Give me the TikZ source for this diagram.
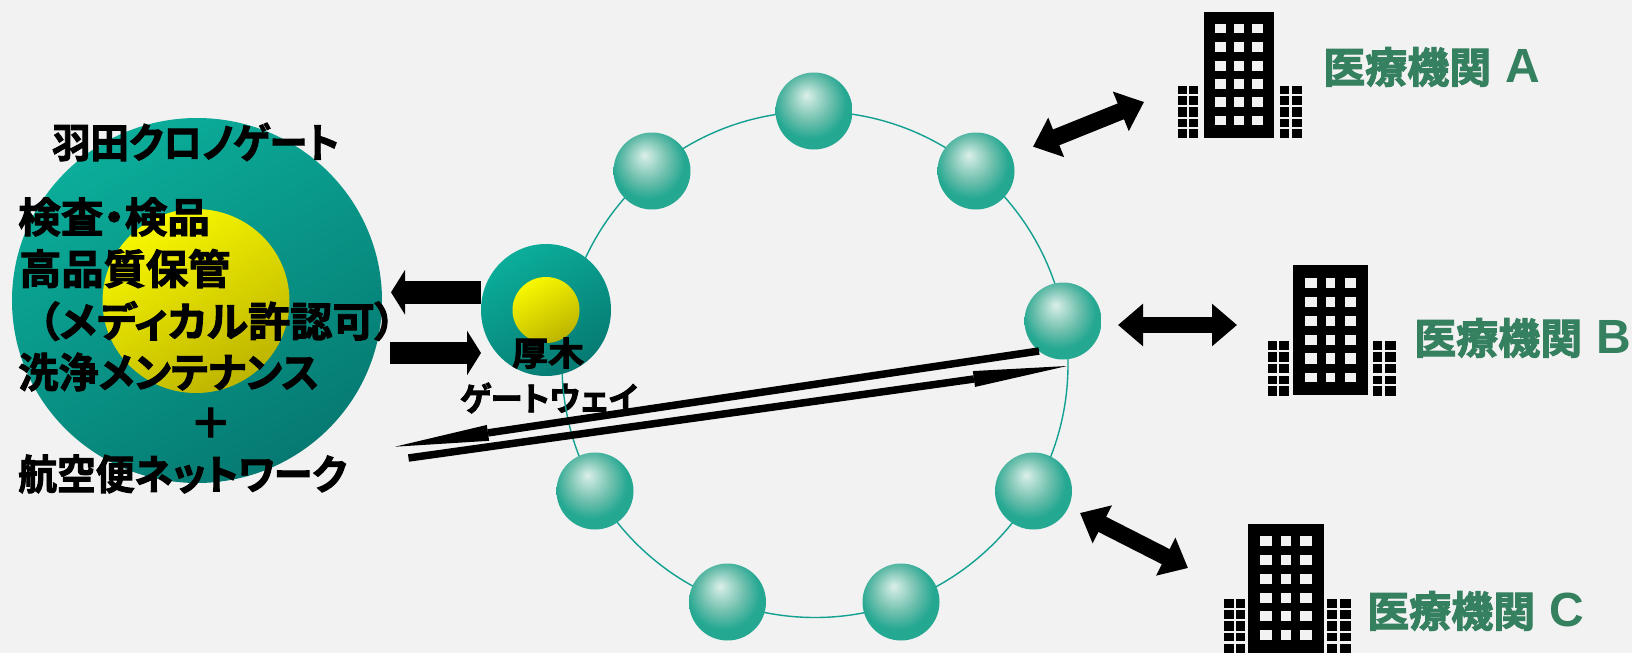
\documentclass[tikz,border=0pt]{standalone}
\usepackage{fontspec}
\usetikzlibrary{shapes.geometric,arrows.meta}
\newfontfamily\jp[RawFeature=+palt,FakeBold=2.4]{Noto Sans CJK JP Bold}
\newfontfamily\lat{Liberation Sans Bold}
\definecolor{bg}{HTML}{F2F2F2}
\definecolor{tealA}{HTML}{0BAD9A}
\definecolor{tealB}{HTML}{067A72}
\definecolor{yelA}{HTML}{F8F800}
\definecolor{yelB}{HTML}{BDB400}
\definecolor{ringc}{HTML}{12A090}
\definecolor{grn}{HTML}{35805F}
\definecolor{sph0}{HTML}{DCEFE8}
\definecolor{sph1}{HTML}{A5D8CC}
\definecolor{sph3}{HTML}{70C0AE}
\definecolor{sph2}{HTML}{25A892}
\pgfdeclareradialshading{sphereshade}{\pgfpoint{-5bp}{10.5bp}}{
 color(0bp)=(sph0); color(7bp)=(sph1); color(14bp)=(sph3); color(23.5bp)=(sph2); color(50bp)=(sph2)}
\tikzset{
 ball/.style={circle,inner sep=0pt,minimum size=77pt,shade,shading=sphereshade},
 disc/.style={ellipse,inner sep=0pt,shade,top color=tealA,bottom color=tealB,shading angle=30},
 yolk/.style={ellipse,inner sep=0pt,shade,top color=yelA,bottom color=yelB,shading angle=30},
 lab/.style={inner sep=0pt,anchor=west,text=black,font=\jp\fontsize{41}{41}\selectfont},
 hosp/.style={inner sep=0pt,anchor=west,text=grn,font=\jp\fontsize{42}{42}\selectfont},
 dbl/.style={line width=17pt,{Triangle[length=25pt,width=41pt]}-{Triangle[length=25pt,width=41pt]}},
 blockarrow/.style={line width=22.5pt,-{Triangle[length=14pt,width=44pt]}},
 longarrow/.style={line width=7.5pt,-{Triangle[length=94pt,width=16pt,line width=0pt 0 0]}},
 ringline/.style={draw=ringc,line width=1.4pt},
}
% x, y, x scale, y scale, shift that brings the side blocks towards the main block
\newcommand{\bldg}[5]{%
 \begin{scope}[shift={(#1,#2)},xscale=#3,yscale=#4]
  \fill[black] (0,0) rectangle (70,126.6);
  \foreach \xa/\xb in {11.4/22.1,30.4/39.7,48.2/58.9}
   \foreach \ya/\yb in {12.7/21.7,30.7/40.7,49.7/59,67.7/77.7,85.7/95.7,104.3/113.7}
    \fill[bg] (\xa,\ya) rectangle (\xb,\yb);
  \begin{scope}[xshift=#5]
  \foreach \xa/\xb in {-25.7/-16.8,-15/-6}
   \foreach \ya/\yb in {74/82.7,84.7/93.7,95.7/105,107.3/115.3,117.7/126.7}
    \fill[black] (\xa,\ya) rectangle (\xb,\yb);
  \end{scope}
  \begin{scope}[xshift=-#5]
  \foreach \xa/\xb in {76.4/85.4,88.2/97.9}
   \foreach \ya/\yb in {74/82.7,84.7/93.7,95.7/105,107.3/115.3,117.7/126.7}
    \fill[black] (\xa,\ya) rectangle (\xb,\yb);
  \end{scope}
 \end{scope}}
\begin{document}
\begin{tikzpicture}[x=1pt,y=-1pt]
\useasboundingbox (0,0) rectangle (1632,653);
\fill[bg] (0,0) rectangle (1632,653);
% gateway label lies under the ring
\node[lab,font=\jp\fontsize{33}{33}\selectfont] (gwlabel) at (460,398) {\scalebox{.98}[1]{ゲートウェイ}};
% ring
\node[circle,ringline,minimum size=506pt,inner sep=0pt] (ring) at (815,364.5) {};
% spheres
\node[ball] (s1) at (814,111) {};
\node[ball] (s2) at (652,171) {};
\node[ball] (s3) at (976,171) {};
\node[ball] (s4) at (1063,321) {};
\fill[bg] (1101,280) rectangle (1106,362);
\node[ball] (s5) at (1033.5,491) {};
\node[ball] (s6) at (901,602) {};
\node[ball] (s7) at (727.5,602) {};
\node[ball] (s8) at (595,491) {};
% Haneda
\node[disc,minimum width=370pt,minimum height=365pt] (haneda) at (197,300.5) {};
\node[yolk,minimum width=187pt,minimum height=184pt] (hanedain) at (196,301) {};
% Atsugi
\node[disc,minimum width=130pt,minimum height=132pt] (atsugi) at (546,310) {};
\node[yolk,minimum width=67pt,minimum height=66pt] (atsugiin) at (546,310) {};
% text
\node[lab] (t1) at (52,142) {\scalebox{.935}[1]{羽田クロノゲート}};
\node[lab] (t2) at (18,217) {\scalebox{1.04}[1]{検査・検品}};
\node[lab] (t3) at (19,268.6) {\scalebox{1.03}[1]{高品質保管}};
\node[lab] (t4) at (38,321) {\scalebox{1.03}[1]{（メディカル許認可）}};
\node[lab] (t5) at (18,372) {\scalebox{.98}[1]{洗浄メンテナンス}};
\node[lab] (t6) at (190,423) {＋};
\node[lab] (t7) at (18,474) {\scalebox{.946}[1]{航空便ネットワーク}};
\node[lab,font=\jp\fontsize{33}{33}\selectfont] (t8) at (512,353) {\scalebox{1.09}[1]{厚木}};
% arrows
\coordinate (la) at (481,292.3); \coordinate (lb) at (391,292.3);
\coordinate (ra) at (390,353); \coordinate (rb) at (481,353);
\draw[blockarrow] (la) -- (lb);
\draw[blockarrow] (ra) -- (rb);
\coordinate (ua) at (1039,351); \coordinate (ub) at (395,446.7);
\coordinate (da) at (408.5,458); \coordinate (db) at (1067,366);
\draw[longarrow] (ua) -- (ub);
\draw[longarrow] (da) -- (db);
\coordinate (aa) at (1033,146.7); \coordinate (ab) at (1144,102);
\coordinate (ba) at (1118,325); \coordinate (bb) at (1237,325);
\coordinate (ca) at (1080,513); \coordinate (cb) at (1188,568);
\draw[dbl] (aa) -- (ab);
\draw[dbl,line width=16pt] (ba) -- (bb);
\draw[dbl] (ca) -- (cb);
% buildings
\bldg{1204}{11.7}{1}{1}{0pt}
\bldg{1293}{265.4}{1.07}{1.027}{2pt}
\bldg{1248}{523.5}{1.086}{1.023}{3.5pt}
% hospitals
\node[hosp] (ha) at (1323,67) {医療機関\hspace{14pt}{\lat\fontsize{48}{48}\selectfont A}};
\node[hosp] (hb) at (1414,338) {医療機関\hspace{14pt}{\lat\fontsize{48}{48}\selectfont B}};
\node[hosp] (hc) at (1367,611) {医療機関\hspace{14pt}{\lat\fontsize{48}{48}\selectfont C}};
\end{tikzpicture}
\end{document}
